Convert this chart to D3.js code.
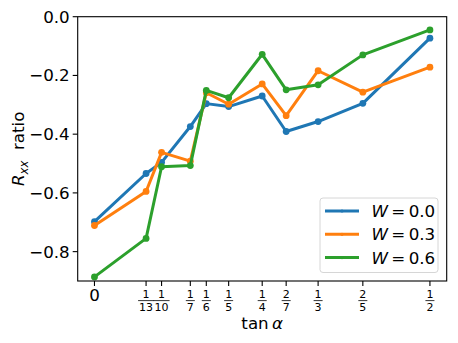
<!DOCTYPE html>
<html>
<head>
<meta charset="utf-8">
<script src="https://cdn.jsdelivr.net/npm/d3@7"></script>
<style>
  body { margin: 0; background: #fff; }
  svg { display: block; font-family: "DejaVu Sans", sans-serif; }
</style>
</head>
<body>
<div class="container"></div>
<script>
// tan(alpha) positions, as fractions
const tanNum = [0, 1, 1, 1, 1, 1, 1, 2, 1, 2, 1];
const tanDen = [1, 13, 10, 7, 6, 5, 4, 7, 3, 5, 2];

// R_xx ratio for each disorder strength W
const seriesNames = ["W = 0.0", "W = 0.3", "W = 0.6"];
const w00 = [-0.698, -0.534, -0.496, -0.374, -0.296, -0.306, -0.270, -0.391, -0.357, -0.295, -0.073];
const w03 = [-0.711, -0.595, -0.462, -0.492, -0.259, -0.298, -0.229, -0.337, -0.184, -0.257, -0.172];
const w06 = [-0.886, -0.755, -0.511, -0.507, -0.251, -0.276, -0.128, -0.249, -0.232, -0.130, -0.045];
const yTicks = [-0.8, -0.6, -0.4, -0.2, 0.0];

const colors = ["#1f77b4", "#ff7f0e", "#2ca02c"];
const wValues = ["0.0", "0.3", "0.6"];

const width = 458, height = 343;
const mLeft = 77.7, mRight = 446.7, mTop = 16.7, mBottom = 281;

const svg = d3.select(".container").append("svg")
  .attr("width", width)
  .attr("height", height);

const xVals = tanNum.map((n, i) => n / tanDen[i]);
const x = d3.scaleLinear().domain([-0.025, 0.525]).range([mLeft, mRight]);
const y = d3.scaleLinear().domain([-0.9, 0]).range([mBottom, mTop]);

// series lines
const data = [w00, w03, w06];
const line = d3.line().x((d, i) => x(xVals[i])).y(d => y(d));

data.forEach((s, k) => {
  svg.append("path")
    .attr("d", line(s))
    .attr("fill", "none")
    .attr("stroke", colors[k])
    .attr("stroke-width", 3)
    .attr("stroke-linejoin", "round");
  svg.selectAll(null)
    .data(s)
    .enter()
    .append("circle")
    .attr("cx", (d, i) => x(xVals[i]))
    .attr("cy", d => y(d))
    .attr("r", 3.4)
    .attr("fill", colors[k]);
});

// frame
svg.append("rect")
  .attr("x", mLeft).attr("y", mTop)
  .attr("width", mRight - mLeft).attr("height", mBottom - mTop)
  .attr("fill", "none")
  .attr("stroke", "#000")
  .attr("stroke-width", 1.1);

// y ticks
const fmt = d3.format(".1f");
yTicks.forEach(t => {
  svg.append("line")
    .attr("x1", mLeft - 5).attr("x2", mLeft)
    .attr("y1", y(t)).attr("y2", y(t))
    .attr("stroke", "#000").attr("stroke-width", 1.1);
  svg.append("text")
    .attr("x", mLeft - 8).attr("y", y(t))
    .attr("dy", "0.36em")
    .attr("text-anchor", "end")
    .attr("font-size", 16.7)
    .text(fmt(t));
});

// x ticks with fraction labels
xVals.forEach((v, i) => {
  const px = x(v);
  svg.append("line")
    .attr("x1", px).attr("x2", px)
    .attr("y1", mBottom).attr("y2", mBottom + 5)
    .attr("stroke", "#000").attr("stroke-width", 1.1);
  if (tanNum[i] === 0) {
    svg.append("text")
      .attr("x", px).attr("y", 301)
      .attr("text-anchor", "middle")
      .attr("font-size", 16.7)
      .text("0");
    return;
  }
  const den = String(tanDen[i]);
  const barW = den.length * 7 + 2;
  svg.append("text")
    .attr("x", px).attr("y", 297.8)
    .attr("text-anchor", "middle")
    .attr("font-size", 11)
    .text(tanNum[i]);
  svg.append("line")
    .attr("x1", px - barW / 2).attr("x2", px + barW / 2)
    .attr("y1", 300.6).attr("y2", 300.6)
    .attr("stroke", "#000").attr("stroke-width", 0.8);
  svg.append("text")
    .attr("x", px).attr("y", 311.3)
    .attr("text-anchor", "middle")
    .attr("font-size", 11)
    .text(den);
});

// axis labels
const xl = svg.append("text")
  .attr("x", (mLeft + mRight) / 2).attr("y", 329)
  .attr("text-anchor", "middle")
  .attr("font-size", 16.7);
xl.append("tspan").text("tan\u2009");
xl.append("tspan").attr("font-style", "italic").text("α");

const yl = svg.append("text")
  .attr("transform", `translate(24, ${(mTop + mBottom) / 2}) rotate(-90)`)
  .attr("text-anchor", "middle")
  .attr("font-size", 16.7);
yl.append("tspan").attr("font-style", "italic").text("R");
yl.append("tspan").attr("font-style", "italic").attr("font-size", 11.7).attr("dy", 3.5).text("xx");
yl.append("tspan").attr("dy", -3.5).text("\u00a0\u00a0ratio");

// legend
const lg = svg.append("g");
lg.append("rect")
  .attr("x", 320).attr("y", 198)
  .attr("width", 118).attr("height", 74.5)
  .attr("rx", 3)
  .attr("fill", "#fff").attr("fill-opacity", 0.8)
  .attr("stroke", "#d6d6d6").attr("stroke-width", 1);

seriesNames.forEach((name, k) => {
  const ry = 211 + k * 23.3;
  lg.append("line")
    .attr("x1", 325).attr("x2", 359)
    .attr("y1", ry).attr("y2", ry)
    .attr("stroke", colors[k]).attr("stroke-width", 3);
  lg.append("circle")
    .attr("cx", 342).attr("cy", ry).attr("r", 1.6)
    .attr("fill", colors[k]);
  const t = lg.append("text")
    .attr("x", 371.5).attr("y", ry)
    .attr("dy", "0.36em")
    .attr("font-size", 16.7);
  t.append("tspan").attr("font-style", "italic").text("W");
  t.append("tspan").text("\u2009=\u2009" + wValues[k]);
});
</script>
</body>
</html>
